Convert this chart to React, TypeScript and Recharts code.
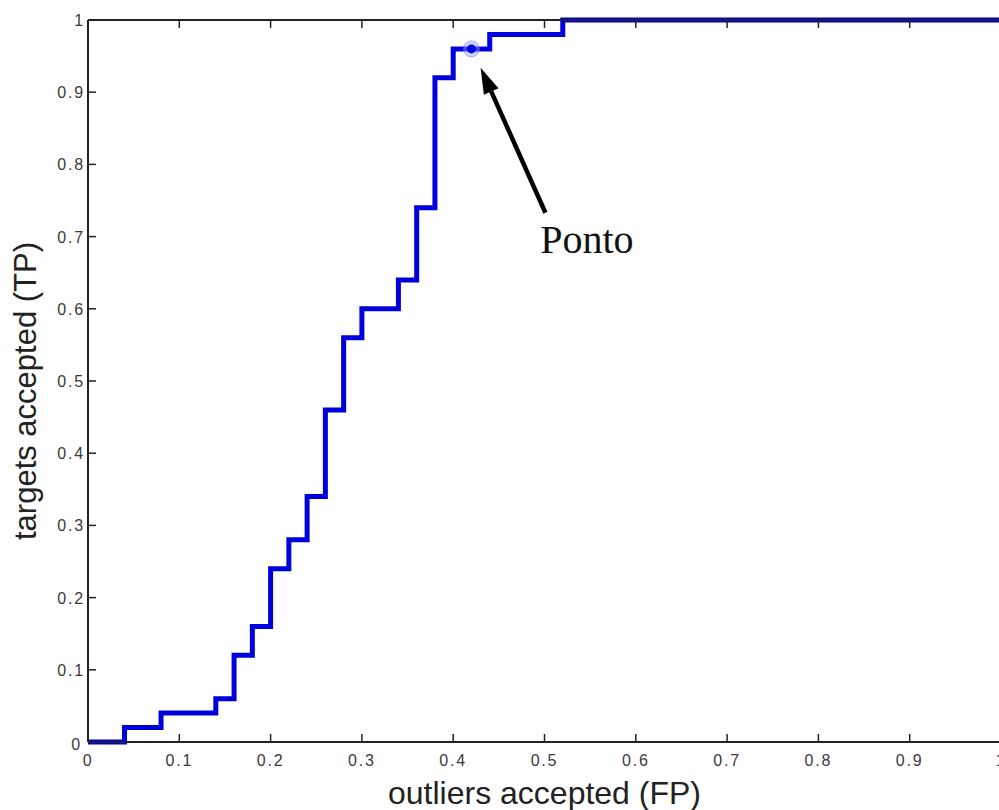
import {
  LineChart, Line, XAxis, YAxis, ReferenceDot, ReferenceLine,
} from "recharts";

// ROC curve: outliers accepted (FP) vs targets accepted (TP)
const fpValues = [0, 0.04, 0.08, 0.14, 0.16, 0.18, 0.2, 0.22, 0.24, 0.26, 0.28, 0.3, 0.34, 0.36, 0.38, 0.4, 0.44, 0.52, 1];
const tpValues = [0, 0.02, 0.04, 0.06, 0.12, 0.16, 0.24, 0.28, 0.34, 0.46, 0.56, 0.6, 0.64, 0.74, 0.92, 0.96, 0.98, 1, 1];

const ticks = [0, 0.1, 0.2, 0.3, 0.4, 0.5, 0.6, 0.7, 0.8, 0.9, 1];
const xTickLabels = ["0", "0.1", "0.2", "0.3", "0.4", "0.5", "0.6", "0.7", "0.8", "0.9", "1"];
const yTickLabels = ["0", "0.1", "0.2", "0.3", "0.4", "0.5", "0.6", "0.7", "0.8", "0.9", "1"];

// operating point and annotation
const pointFP = 0.42;
const pointTP = 0.96;
const arrowTail = { x: 0.501, y: 0.733 };
const arrowHead = { x: 0.43, y: 0.934 };
const noteAt = { x: 0.4953, y: 0.677 };
const noteText = "Ponto";

const data = fpValues.map((fp, i) => ({ fp, tp: tpValues[i] }));

const BLUE = "#0000dc";
const AXIS = "#222";
const TICK_LEN = 8;
const tickFont = { fontFamily: "Arial, 'Liberation Sans', sans-serif", fontSize: 16, fill: "#3a3a3a", letterSpacing: 1.8 };

function BottomTick({ x, y, payload, index }: any) {
  const i = ticks.indexOf(payload.value);
  return (
    <g>
      {index > 0 && index < ticks.length - 1 && (
        <line x1={x} y1={y} x2={x} y2={y - TICK_LEN} stroke={AXIS} strokeWidth={1.5} />
      )}
      <text x={x} y={y + 24} textAnchor="middle" {...tickFont}>{xTickLabels[i]}</text>
    </g>
  );
}

function LeftTick({ x, y, payload, index }: any) {
  const i = ticks.indexOf(payload.value);
  const isZero = payload.value === 0;
  return (
    <g>
      {index > 0 && index < ticks.length - 1 && (
        <line x1={x} y1={y} x2={x + TICK_LEN} y2={y} stroke={AXIS} strokeWidth={1.5} />
      )}
      <text x={isZero ? x - 6 : x - 3} y={isZero ? y + 8 : y + 6} textAnchor="end" {...tickFont}>{yTickLabels[i]}</text>
    </g>
  );
}

function TopTick({ x, y, index }: any) {
  if (index === 0 || index === ticks.length - 1) return null;
  return <line x1={x} y1={y} x2={x} y2={y + TICK_LEN} stroke={AXIS} strokeWidth={1.5} />;
}

function RightTick({ x, y, index }: any) {
  if (index === 0 || index === ticks.length - 1) return null;
  return <line x1={x} y1={y} x2={x - TICK_LEN} y2={y} stroke={AXIS} strokeWidth={1.5} />;
}

function Arrow(props: any) {
  const { x1, y1, x2, y2 } = props;
  const ang = Math.atan2(y2 - y1, x2 - x1);
  const len = 26;
  const half = 8;
  const bx = x2 - len * Math.cos(ang);
  const by = y2 - len * Math.sin(ang);
  const px = -Math.sin(ang) * half;
  const py = Math.cos(ang) * half;
  return (
    <g>
      <line x1={x1} y1={y1} x2={bx} y2={by} stroke="#000" strokeWidth={4.5} />
      <polygon points={`${x2},${y2} ${bx + px},${by + py} ${bx - px},${by - py}`} fill="#000" />
    </g>
  );
}

function NoteLabel({ cx, cy }: any) {
  return (
    <text x={cx} y={cy} fontFamily="'Liberation Serif', 'Times New Roman', serif" fontSize={40} fill="#111">
      {noteText}
    </text>
  );
}

function XLabel({ viewBox }: any) {
  const { x, width } = viewBox;
  return (
    <text x={x + width / 2} y={804} textAnchor="middle" fontFamily="Arial, 'Liberation Sans', sans-serif" fontSize={32} fill="#222">
      outliers accepted (FP)
    </text>
  );
}

function YLabel() {
  return (
    <text x={0} y={0} transform="translate(36, 391) rotate(-90)" textAnchor="middle" fontFamily="Arial, 'Liberation Sans', sans-serif" fontSize={31} fill="#222">
      targets accepted (TP)
    </text>
  );
}

export default function App() {
  return (
    <div style={{ position: "absolute", left: 0, top: 0, width: 999, height: 810, overflow: "hidden", background: "#fff" }}>
      <LineChart width={1020} height={810} data={data} margin={{ top: 19, right: 18, bottom: 0, left: 0 }}>
        <XAxis
          dataKey="fp"
          type="number"
          domain={[0, 1]}
          ticks={ticks}
          height={68}
          tickSize={0}
          tickMargin={0}
          tick={<BottomTick />}
          axisLine={{ stroke: AXIS, strokeWidth: 2 }}
          tickLine={false}
          interval={0}
          label={<XLabel />}
        />
        <XAxis
          xAxisId="top"
          orientation="top"
          dataKey="fp"
          type="number"
          domain={[0, 1]}
          ticks={ticks}
          height={1}
          tickSize={0}
          tickMargin={0}
          tick={<TopTick />}
          axisLine={{ stroke: AXIS, strokeWidth: 2 }}
          tickLine={false}
          interval={0}
        />
        <YAxis
          type="number"
          domain={[0, 1]}
          ticks={ticks}
          width={88}
          tickSize={0}
          tickMargin={0}
          tick={<LeftTick />}
          axisLine={{ stroke: AXIS, strokeWidth: 2 }}
          tickLine={false}
          interval={0}
          label={<YLabel />}
        />
        <YAxis
          yAxisId="right"
          orientation="right"
          type="number"
          domain={[0, 1]}
          ticks={ticks}
          width={1}
          tickSize={0}
          tickMargin={0}
          tick={<RightTick />}
          axisLine={{ stroke: AXIS, strokeWidth: 2 }}
          tickLine={false}
          interval={0}
        />
        <Line
          dataKey="tp"
          type="stepAfter"
          stroke={BLUE}
          strokeWidth={5}
          dot={false}
          activeDot={false}
          isAnimationActive={false}
        />
        <ReferenceDot x={pointFP} y={pointTP} r={8} fill="#8fa0ff" fillOpacity={0.45} stroke="#6070ff" strokeOpacity={0.5} strokeWidth={1} />
        <ReferenceDot x={pointFP} y={pointTP} r={4.5} fill={BLUE} stroke="none" />
        <ReferenceLine segment={[arrowTail, arrowHead]} shape={<Arrow />} />
        <ReferenceDot x={noteAt.x} y={noteAt.y} r={0} shape={<NoteLabel />} />
      </LineChart>
    </div>
  );
}
